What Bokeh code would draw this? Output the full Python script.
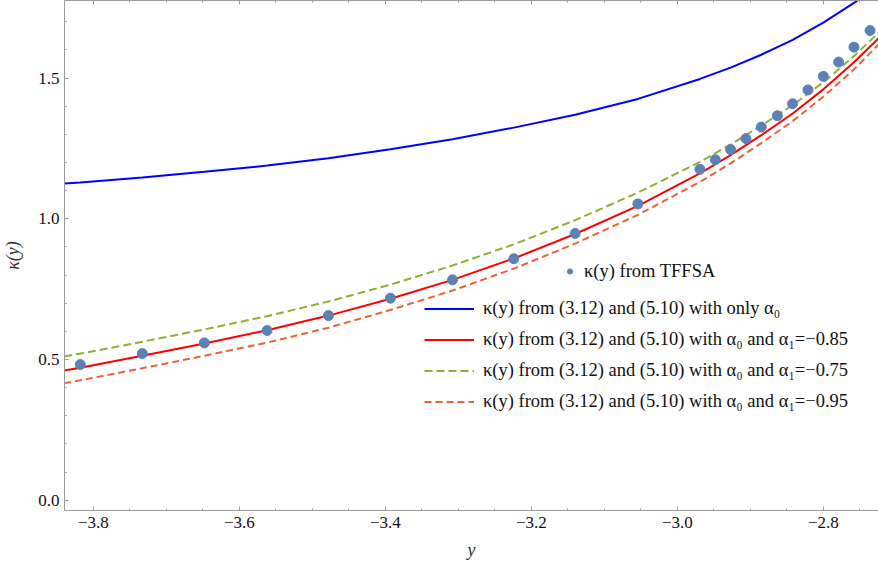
from bokeh.plotting import figure
from bokeh.models import (Range1d, LinearAxis, SingleIntervalTicker,
                          CustomJSTickFormatter, Legend, LegendItem)
from bokeh.embed import file_html
from bokeh.resources import INLINE

# TFFSA data points
tffsa_y = [-3.818, -3.733, -3.648, -3.562, -3.478, -3.393, -3.308, -3.224, -3.140, -3.054,
           -2.969, -2.948, -2.927, -2.906, -2.885, -2.863, -2.842, -2.821, -2.800, -2.779,
           -2.758, -2.736]
tffsa_k = [0.482, 0.521, 0.559, 0.603, 0.656, 0.718, 0.783, 0.858, 0.948, 1.053,
           1.176, 1.210, 1.246, 1.285, 1.326, 1.366, 1.409, 1.458, 1.506, 1.557,
           1.610, 1.669]

# curves
curve_y = [-3.840, -3.818, -3.733, -3.648, -3.562, -3.478, -3.393, -3.308, -3.224,
           -3.140, -3.054, -2.969, -2.927, -2.885, -2.842, -2.800, -2.758, -2.724]
k_only_a0 = [1.125, 1.129, 1.147, 1.167, 1.189, 1.215, 1.247, 1.283, 1.324,
             1.370, 1.426, 1.497, 1.537, 1.583, 1.636, 1.697, 1.767, 1.830]
k_a1_085 = [0.461, 0.471, 0.513, 0.557, 0.604, 0.656, 0.716, 0.783, 0.859,
            0.946, 1.046, 1.161, 1.226, 1.297, 1.374, 1.460, 1.556, 1.642]
k_a1_075 = [0.511, 0.521, 0.563, 0.607, 0.654, 0.706, 0.766, 0.834, 0.909,
            0.995, 1.093, 1.202, 1.264, 1.331, 1.404, 1.485, 1.578, 1.662]
k_a1_095 = [0.416, 0.426, 0.469, 0.513, 0.560, 0.613, 0.676, 0.745, 0.823,
            0.912, 1.014, 1.131, 1.197, 1.269, 1.347, 1.434, 1.531, 1.620]

labels = ["κ(y) from TFFSA",
          "κ(y) from (3.12) and (5.10) with only α₀",
          "κ(y) from (3.12) and (5.10) with α₀ and α₁=−0.85",
          "κ(y) from (3.12) and (5.10) with α₀ and α₁=−0.75",
          "κ(y) from (3.12) and (5.10) with α₀ and α₁=−0.95"]

FONT = "Liberation Serif"
GRAY = "#9a9a9a"

p = figure(width=878, height=565, output_backend="svg", toolbar_location=None,
           x_range=Range1d(-3.8396, -2.7244), y_range=Range1d(-0.0366, 1.7757),
           min_border_left=62, min_border_right=0, min_border_top=0, min_border_bottom=55,
           x_axis_label="y", y_axis_label="κ(y)")
p.outline_line_color = None
p.xgrid.grid_line_color = None
p.ygrid.grid_line_color = None
p.background_fill_color = "white"

fmt = CustomJSTickFormatter(code="return (tick < -1e-9 ? '\u2212' : '') + Math.abs(tick).toFixed(1);")

def style_axis(ax):
    ax.axis_line_color = GRAY
    ax.major_tick_line_color = GRAY
    ax.minor_tick_line_color = GRAY
    ax.major_tick_in = 4
    ax.major_tick_out = 0
    ax.minor_tick_in = 2
    ax.minor_tick_out = 0
    ax.major_label_text_font = FONT
    ax.major_label_text_font_size = "17px"
    ax.major_label_text_color = "#111111"
    ax.axis_label_text_font = FONT
    ax.axis_label_text_font_size = "18px"
    ax.axis_label_text_font_style = "italic"
    ax.axis_label_text_color = "#333333"

xa = p.xaxis[0]
xa.ticker = SingleIntervalTicker(interval=0.2, num_minor_ticks=4)
xa.formatter = fmt
style_axis(xa)
xa.major_label_standoff = 6
xa.axis_label_standoff = 9

ya = p.yaxis[0]
ya.ticker = SingleIntervalTicker(interval=0.5, num_minor_ticks=5)
ya.formatter = fmt
style_axis(ya)
ya.major_label_standoff = 5
ya.axis_label_standoff = 12

top = LinearAxis(ticker=SingleIntervalTicker(interval=0.2, num_minor_ticks=4),
                 formatter=CustomJSTickFormatter(code="return '';"))
style_axis(top)
top.major_label_text_font_size = "1px"
top.major_label_standoff = 0
p.add_layout(top, "above")

r_blue = p.line(curve_y, k_only_a0, line_color="#0000FF", line_width=2)
r_red = p.line(curve_y, k_a1_085, line_color="#FF0000", line_width=2)
r_green = p.line(curve_y, k_a1_075, line_color="#8FB032", line_width=2, line_dash="8 4")
r_orange = p.line(curve_y, k_a1_095, line_color="#EB6235", line_width=2, line_dash="7 4")
r_dots = p.scatter(tffsa_y, tffsa_k, size=10, fill_color="#5E81B5", line_color="#5E81B5")

def make_legend(items, loc, gw, gh, lh, standoff):
    return Legend(items=items, location=loc, glyph_width=gw, glyph_height=gh,
                  label_height=lh, label_standoff=standoff, spacing=0, padding=0,
                  margin=0, border_line_color=None, background_fill_alpha=0,
                  label_text_font=FONT, label_text_font_size="18.5px",
                  label_text_color="#111111")

leg1 = make_legend([LegendItem(label=labels[0], renderers=[r_dots])],
                   (499, 228), 13, 22, 22, 8)
leg2 = make_legend([LegendItem(label=labels[1], renderers=[r_blue]),
                    LegendItem(label=labels[2], renderers=[r_red]),
                    LegendItem(label=labels[3], renderers=[r_green]),
                    LegendItem(label=labels[4], renderers=[r_orange])],
                   (360, 93), 50, 31, 31, 9)
p.add_layout(leg1, "center")
p.add_layout(leg2, "center")

open("out.html", "w").write(file_html(p, INLINE))
